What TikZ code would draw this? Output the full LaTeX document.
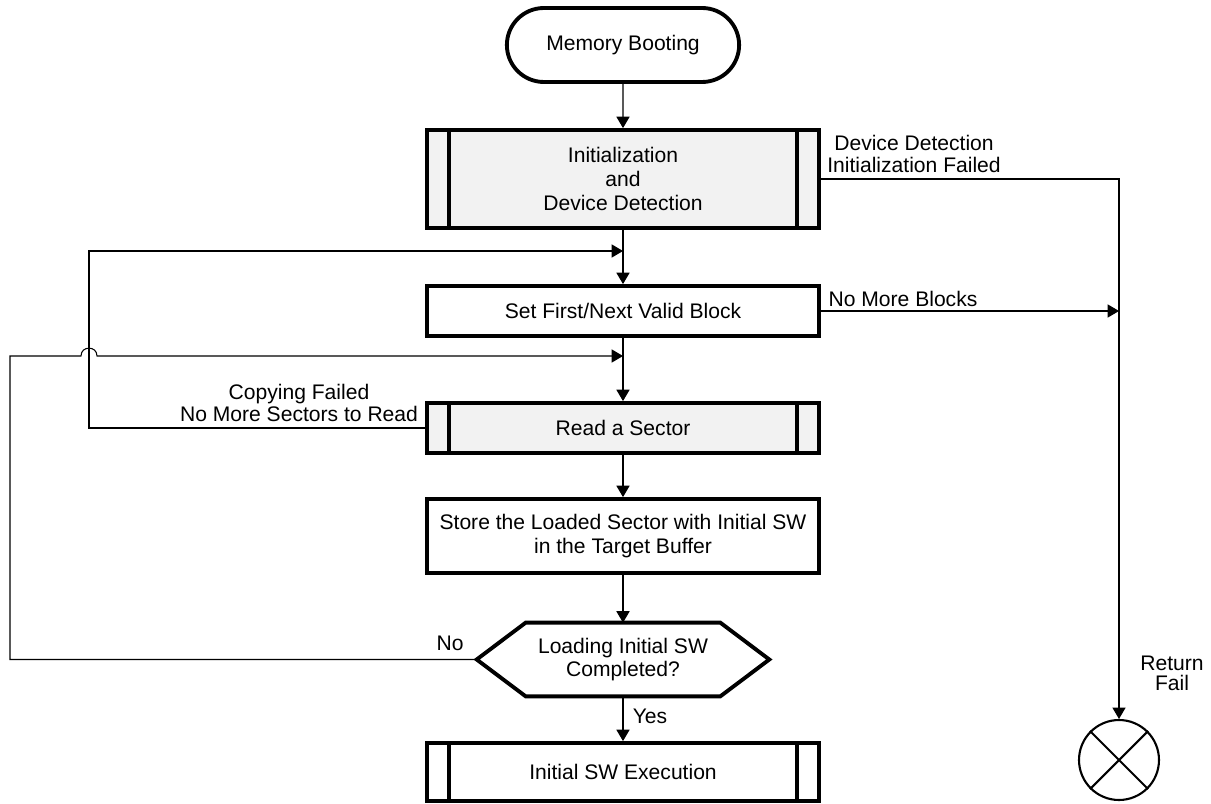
\documentclass[tikz,border=0pt]{standalone}
\usepackage{fontspec}
\setmainfont{Liberation Sans}
\usetikzlibrary{arrows.meta,shapes.misc}
\definecolor{procgray}{HTML}{F2F2F2}

\tikzset{
  every node/.style={font=\fontsize{12pt}{13.6pt}\selectfont},
  box/.style={draw, line width=2.2pt, minimum width=7.84cm, inner sep=2pt, align=center},
  shaded/.style={fill=procgray},
  term/.style={draw, rounded rectangle, line width=2.2pt, minimum width=4.88cm, minimum height=1.48cm},
  conn/.style={line width=0.6pt, -{Triangle[length=6.5pt,width=7.5pt]}},
  lbl/.style={align=center, inner sep=0pt, font=\fontsize{12pt}{12.5pt}\selectfont}
}

\begin{document}
\begin{tikzpicture}[x=0.02cm,y=-0.02cm]
  \useasboundingbox (0,0) rectangle (1211,804);
  % main column
  \node[term] (boot) at (623,45) {Memory Booting};
  \node[box,shaded,minimum height=1.96cm] (init) at (623,179) {Initialization\\and\\Device Detection};
  \node[box,minimum height=1cm] (set) at (623,311) {Set First/Next Valid Block};
  \node[box,shaded,minimum height=1cm] (read) at (623,428) {Read a Sector};
  \node[box,minimum height=1.48cm] (store) at (623,536) {Store the Loaded Sector with Initial SW\\in the Target Buffer};
  \node[minimum width=5.84cm,minimum height=1.46cm,inner sep=0pt,align=center] (dec) at (623,659.5) {Loading Initial SW\\Completed?};
  \node[box,minimum height=1.16cm] (exec) at (623,772) {Initial SW Execution};
  % return fail
  \node[circle,draw,line width=1.2pt,minimum size=1.6cm,inner sep=0pt] (fail) at (1119,760) {};
  \draw[line width=1.2pt] (fail.north west) -- (fail.south east) (fail.north east) -- (fail.south west);
  % inner bars of the predefined process boxes
  \foreach \n in {init,read,exec}
    \draw[line width=2.2pt] ([xshift=0.48cm]\n.north west) -- ([xshift=0.48cm]\n.south west)
      ([xshift=-0.48cm]\n.north east) -- ([xshift=-0.48cm]\n.south east);
  % decision outline
  \draw[line width=2.2pt] (dec.west) -- ([xshift=0.98cm]dec.north west) -- ([xshift=-0.98cm]dec.north east)
    -- (dec.east) -- ([xshift=-0.98cm]dec.south east) -- ([xshift=0.98cm]dec.south west) -- cycle;

  \coordinate (lp1) at (89,251);
  \coordinate (lp2) at (10,356);
  \coordinate (in1) at (init.south |- lp1);
  \coordinate (in2) at (set.south |- lp2);
  \coordinate (hop) at (lp1 |- lp2);
  \coordinate (join) at (fail.north |- set.east);

  % connectors
  \draw[conn] (boot) -- (init);
  \draw[conn] (init) -- (set);
  \draw[conn] (set) -- (read);
  \draw[conn] (read) -- (store);
  \draw[conn] (store) -- (dec);
  \draw[conn] (dec) -- (exec);
  \draw[conn] (init.east) -| (fail.north);
  \draw[conn] (set.east) -- (join);
  \draw[conn] (read.west) -| (lp1) -- (in1);
  \draw[conn] (dec.west) -| (lp2) -- ([xshift=-0.16cm]hop)
    .. controls ([xshift=-0.16cm,yshift=0.21cm]hop) and ([xshift=0.16cm,yshift=0.21cm]hop) .. ([xshift=0.16cm]hop) -- (in2);

  % labels
  \node[lbl] (devfail) at (914,154) {Device Detection\\Initialization Failed};
  \node[lbl] (nomore) at (903,299) {No More Blocks};
  \node[lbl] (copyfail) at (299,403) {Copying Failed\\No More Sectors to Read};
  \node[lbl] (no) at (450,643) {No};
  \node[lbl] (yes) at (650,716) {Yes};
  \node[lbl,font=\fontsize{12pt}{11.5pt}\selectfont] (retfail) at (1172,673) {Return\\Fail};
\end{tikzpicture}
\end{document}
